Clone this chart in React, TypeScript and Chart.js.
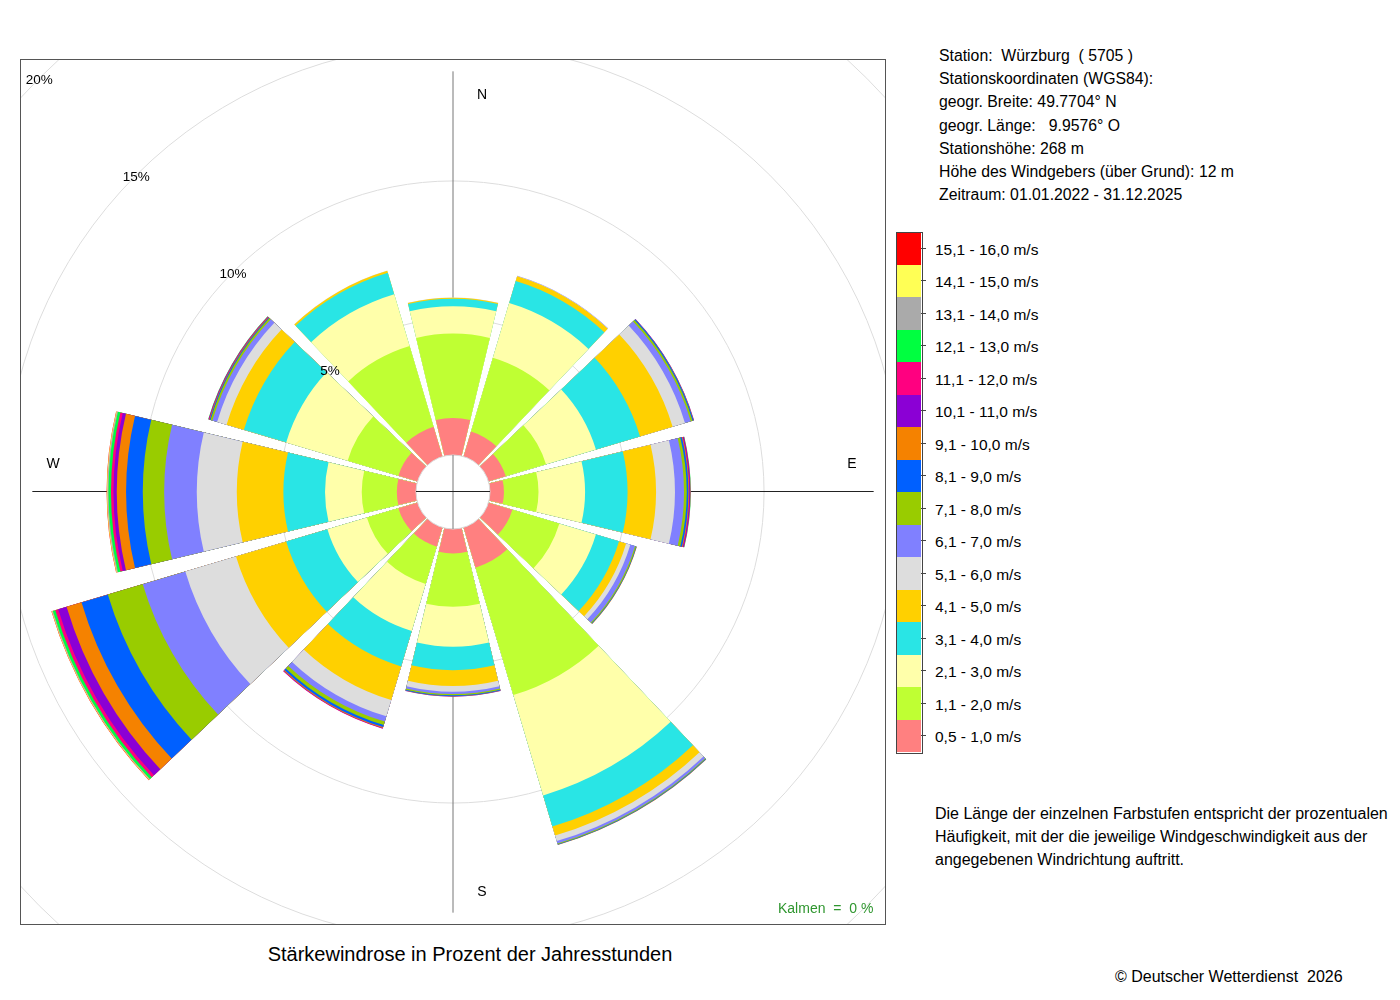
import React, { useEffect, useRef } from 'react';
import { Chart, registerables } from 'chart.js';

Chart.register(...registerables);

// ---- data -----------------------------------------------------------
const DIRECTIONS = ['N', 'NNO', 'ONO', 'O', 'OSO', 'SSO', 'S', 'SSW', 'WSW', 'W', 'WNW', 'NNW'];

const CLASS_LABELS = [
  '0,5 - 1,0 m/s', '1,1 - 2,0 m/s', '2,1 - 3,0 m/s', '3,1 - 4,0 m/s',
  '4,1 - 5,0 m/s', '5,1 - 6,0 m/s', '6,1 - 7,0 m/s', '7,1 - 8,0 m/s',
  '8,1 - 9,0 m/s', '9,1 - 10,0 m/s', '10,1 - 11,0 m/s', '11,1 - 12,0 m/s',
  '12,1 - 13,0 m/s', '13,1 - 14,0 m/s', '14,1 - 15,0 m/s', '15,1 - 16,0 m/s',
];

const CLASS_COLORS = [
  '#FF8080', '#BFFF33', '#FFFFAA', '#29E5E5',
  '#FFD000', '#DDDDDD', '#8080FF', '#99CC00',
  '#0060FF', '#F58200', '#8B00D5', '#FF0080',
  '#00FF40', '#AAAAAA', '#FFFF55', '#FF0000',
];

// percent of hours per direction (N, NNO, ONO, O, OSO, SSO, S, SSW, WSW, W, WNW, NNW)
const v05_10 = [1.35, 0.95, 0.66, 0.51, 0.91, 1.53, 0.89, 0.73, 0.73, 0.70, 0.73, 1.13];
const v11_20 = [3.08, 2.81, 1.53, 1.26, 1.79, 4.85, 1.95, 1.42, 1.20, 1.28, 1.93, 3.08];
const v21_30 = [1.00, 2.08, 1.90, 1.70, 1.39, 3.82, 1.46, 1.79, 1.50, 1.34, 2.34, 1.97];
const v31_40 = [0.27, 0.84, 1.68, 1.55, 0.88, 1.18, 0.85, 1.35, 1.57, 1.52, 1.61, 0.82];
const v41_50 = [0.04, 0.18, 1.24, 1.04, 0.27, 0.35, 0.58, 1.28, 1.91, 1.70, 0.66, 0.07];
const v51_60 = [0.01, 0.01, 0.47, 0.69, 0.16, 0.21, 0.21, 0.62, 1.93, 1.46, 0.36, 0.01];
const v61_70 = [0.00, 0.01, 0.22, 0.33, 0.18, 0.09, 0.08, 0.20, 1.62, 1.19, 0.18, 0.00];
const v71_80 = [0.00, 0.00, 0.07, 0.10, 0.04, 0.03, 0.05, 0.13, 1.33, 0.78, 0.07, 0.00];
const v81_90 = [0.00, 0.00, 0.04, 0.06, 0.02, 0.02, 0.03, 0.08, 1.00, 0.61, 0.03, 0.00];
const v91_100 = [0.00, 0.00, 0.01, 0.03, 0.01, 0.01, 0.01, 0.03, 0.57, 0.34, 0.02, 0.00];
const v101_110 = [0.00, 0.00, 0.01, 0.03, 0.00, 0.00, 0.01, 0.02, 0.32, 0.12, 0.02, 0.00];
const v111_120 = [0.00, 0.00, 0.00, 0.02, 0.00, 0.00, 0.00, 0.01, 0.11, 0.09, 0.01, 0.00];
const v121_130 = [0.00, 0.00, 0.00, 0.01, 0.00, 0.00, 0.00, 0.00, 0.09, 0.09, 0.01, 0.00];
const v131_140 = [0.00, 0.00, 0.00, 0.00, 0.00, 0.00, 0.00, 0.00, 0.03, 0.04, 0.00, 0.00];
const v141_150 = [0.00, 0.00, 0.00, 0.00, 0.00, 0.00, 0.00, 0.00, 0.02, 0.02, 0.00, 0.00];
const v151_160 = [0.00, 0.00, 0.00, 0.00, 0.00, 0.00, 0.00, 0.00, 0.01, 0.01, 0.00, 0.00];

const CLASS_VALUES = [
  v05_10, v11_20, v21_30, v31_40, v41_50, v51_60, v61_70, v71_80,
  v81_90, v91_100, v101_110, v111_120, v121_130, v131_140, v141_150, v151_160,
];

const RING_TICKS = [5, 10, 15, 20];

const STATION_LINES = [
  'Station:  Würzburg  ( 5705 )',
  'Stationskoordinaten (WGS84):',
  'geogr. Breite: 49.7704° N',
  'geogr. Länge:   9.9576° O',
  'Stationshöhe: 268 m',
  'Höhe des Windgebers (über Grund): 12 m',
  'Zeitraum: 01.01.2022 - 31.12.2025',
];

const NOTE_LINES = [
  'Die Länge der einzelnen Farbstufen entspricht der prozentualen',
  'Häufigkeit, mit der die jeweilige Windgeschwindigkeit aus der',
  'angegebenen Windrichtung auftritt.',
];

// ---- geometry / style constants ---------------------------------------
const SECTOR_SPAN = 26.9; // degrees covered by a direction bar
const GAP_SPAN = 3.1; // white gap between bars
const SCALE_MIN = -1.35; // leaves the empty calm circle in the middle
const SCALE_MAX = 14.45;
const AXIS_EXTENT = 14.0;
const FONT = "'Liberation Sans', Arial, Helvetica, sans-serif";

const decorPlugin = {
  id: 'roseDecor',
  beforeDatasetsDraw(chart: any) {
    const s = chart.scales.r;
    const ctx = chart.ctx;
    const cx = s.xCenter;
    const cy = s.yCenter;
    const L = s.getDistanceFromCenterForValue(AXIS_EXTENT);
    ctx.save();
    ctx.lineWidth = 1;
    ctx.strokeStyle = '#777';
    ctx.beginPath();
    ctx.moveTo(cx, cy - L);
    ctx.lineTo(cx, cy + L);
    ctx.stroke();
    ctx.strokeStyle = '#222';
    ctx.beginPath();
    ctx.moveTo(cx - L, cy - 0.5);
    ctx.lineTo(cx + L, cy - 0.5);
    ctx.stroke();
    ctx.restore();
  },
  afterDatasetsDraw(chart: any) {
    const s = chart.scales.r;
    const ctx = chart.ctx;
    const cx = s.xCenter;
    const cy = s.yCenter;
    const r0 = s.getDistanceFromCenterForValue(0);
    ctx.save();
    // calm circle
    ctx.beginPath();
    ctx.arc(cx, cy, r0, 0, Math.PI * 2);
    ctx.fillStyle = '#ffffff';
    ctx.fill();
    ctx.strokeStyle = '#d8d8d8';
    ctx.lineWidth = 1;
    ctx.stroke();
    ctx.strokeStyle = '#777';
    ctx.beginPath();
    ctx.moveTo(cx, cy - r0);
    ctx.lineTo(cx, cy + r0);
    ctx.stroke();
    ctx.strokeStyle = '#222';
    ctx.beginPath();
    ctx.moveTo(cx - r0, cy - 0.5);
    ctx.lineTo(cx + r0, cy - 0.5);
    ctx.stroke();

    // ring labels along the upper-left diagonal
    ctx.fillStyle = '#000';
    ctx.font = `13.5px ${FONT}`;
    ctx.textAlign = 'center';
    ctx.textBaseline = 'middle';
    RING_TICKS.forEach((v) => {
      const r = s.getDistanceFromCenterForValue(v);
      ctx.fillText(`${v}%`, cx - r * Math.SQRT1_2, cy - r * Math.SQRT1_2 + 2.5);
    });

    // compass letters
    ctx.font = `14px ${FONT}`;
    ctx.fillText('N', cx + 29, cy - 397);
    ctx.fillText('S', cx + 29, cy + 400);
    ctx.fillText('W', cx - 400, cy - 28);
    ctx.fillText('E', cx + 399, cy - 28);

    // frame
    ctx.strokeStyle = '#555';
    ctx.lineWidth = 1;
    ctx.strokeRect(0.5, 0.5, chart.width - 1, chart.height - 1);
    ctx.restore();
  },
};

function buildDatasets() {
  return CLASS_VALUES.map((vals, k) => {
    const data: number[] = [];
    const colors: string[] = [];
    DIRECTIONS.forEach((_, d) => {
      let cum = 0;
      for (let j = 0; j <= k; j++) cum += CLASS_VALUES[j][d];
      data.push(cum);
      colors.push(vals[d] > 0 ? CLASS_COLORS[k] : 'rgba(0,0,0,0)');
      data.push(0);
      colors.push('rgba(0,0,0,0)');
    });
    return {
      label: CLASS_LABELS[k],
      data,
      backgroundColor: colors,
      borderWidth: 0,
      angle: (c: any) => (c.dataIndex % 2 === 0 ? SECTOR_SPAN : GAP_SPAN),
    };
  });
}

function WindRose() {
  const ref = useRef<HTMLCanvasElement | null>(null);
  useEffect(() => {
    if (!ref.current) return;
    const labels: string[] = [];
    DIRECTIONS.forEach((d) => {
      labels.push(d);
      labels.push('');
    });
    const chart = new Chart(ref.current, {
      type: 'polarArea',
      data: { labels, datasets: buildDatasets() as any },
      options: {
        animation: false,
        responsive: false,
        maintainAspectRatio: false,
        layout: { padding: 0 },
        plugins: { legend: { display: false }, tooltip: { enabled: false } },
        scales: {
          r: {
            min: SCALE_MIN,
            max: SCALE_MAX,
            startAngle: -SECTOR_SPAN / 2,
            ticks: { display: false },
            grid: { color: '#dddddd', lineWidth: 1, circular: true },
            angleLines: { display: false },
            pointLabels: { display: false },
            afterBuildTicks: (scale: any) => {
              scale.ticks = RING_TICKS.map((v) => ({ value: v }));
            },
          } as any,
        },
      } as any,
      plugins: [decorPlugin],
    });
    return () => chart.destroy();
  }, []);
  return (
    <canvas
      ref={ref}
      width={866}
      height={866}
      style={{ position: 'absolute', left: 20, top: 59, width: 866, height: 866 }}
    />
  );
}

export default function App() {
  const legendTop = 232;
  const boxH = 32.5;
  const reversed = CLASS_LABELS.map((_, i) => CLASS_LABELS.length - 1 - i);
  return (
    <div
      style={{
        position: 'absolute',
        left: 0,
        top: 0,
        width: 1400,
        height: 1000,
        background: '#fff',
        fontFamily: FONT,
        color: '#000',
        overflow: 'hidden',
      }}
    >
      <WindRose />

      <div
        style={{
          position: 'absolute',
          left: 778,
          top: 899,
          fontSize: 14,
          color: '#2f962f',
          whiteSpace: 'pre',
          lineHeight: '18px',
        }}
      >
        {'Kalmen  =  0 %'}
      </div>

      <div
        style={{
          position: 'absolute',
          left: 170,
          top: 942,
          width: 600,
          textAlign: 'center',
          fontSize: 20,
          lineHeight: '24px',
          whiteSpace: 'nowrap',
        }}
      >
        Stärkewindrose in Prozent der Jahresstunden
      </div>

      <div style={{ position: 'absolute', left: 939, top: 44, fontSize: 15.8, lineHeight: '23.2px' }}>
        {STATION_LINES.map((t, i) => (
          <div key={i} style={{ whiteSpace: 'pre' }}>
            {t}
          </div>
        ))}
      </div>

      {/* colour legend */}
      {reversed.map((k, i) => (
        <div
          key={k}
          style={{
            position: 'absolute',
            left: 896,
            top: legendTop + i * boxH,
            width: 25,
            height: boxH,
            background: CLASS_COLORS[k],
          }}
        />
      ))}
      <div
        style={{
          position: 'absolute',
          left: 895.5,
          top: legendTop - 0.5,
          width: 25,
          height: boxH * 16,
          border: '1px solid #444',
        }}
      />
      {reversed.map((k, i) => (
        <React.Fragment key={'t' + k}>
          <div
            style={{
              position: 'absolute',
              left: 921,
              top: legendTop + i * boxH + boxH / 2 - 0.5,
              width: 5,
              height: 1,
              background: '#444',
            }}
          />
          <div
            style={{
              position: 'absolute',
              left: 935,
              top: legendTop + i * boxH + boxH / 2 - 8.5,
              height: 20,
              lineHeight: '20px',
              fontSize: 15.5,
              whiteSpace: 'nowrap',
            }}
          >
            {CLASS_LABELS[k]}
          </div>
        </React.Fragment>
      ))}

      <div style={{ position: 'absolute', left: 935, top: 802, fontSize: 16, lineHeight: '23px' }}>
        {NOTE_LINES.map((t, i) => (
          <div key={i} style={{ whiteSpace: 'nowrap' }}>
            {t}
          </div>
        ))}
      </div>

      <div style={{ position: 'absolute', left: 1115, top: 966, fontSize: 16, lineHeight: '22px', whiteSpace: 'pre' }}>
        {'© Deutscher Wetterdienst  2026'}
      </div>
    </div>
  );
}
